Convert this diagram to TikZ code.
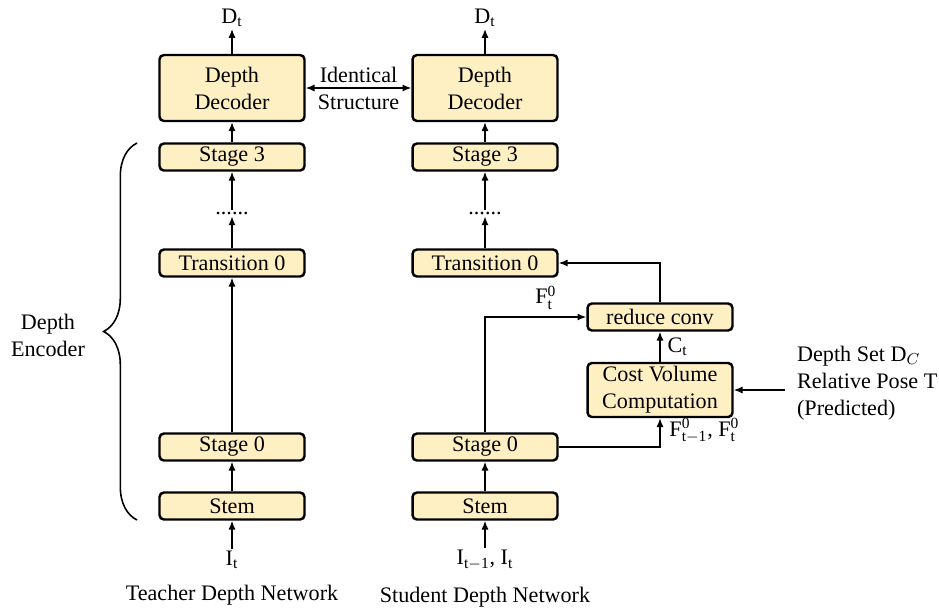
\documentclass[tikz,border=0pt]{standalone}
\usepackage{fontspec}
\setmainfont{Liberation Serif}
\usepackage{tikz}
\usetikzlibrary{math,arrows.meta,decorations.pathreplacing}
\definecolor{boxfill}{RGB}{255,240,196}
\tikzset{
  blk/.style={draw, line width=1.4pt, rounded corners=2.5pt, fill=boxfill,
    minimum width=2.9cm, minimum height=0.54cm, inner sep=0pt, align=center},
  decblk/.style={blk, minimum height=1.32cm},
  lbl/.style={inner sep=1pt, align=center},
  flow/.style={-{Latex[length=5pt,width=4pt]}, line width=0.75pt},
}
\begin{document}
\begin{tikzpicture}[x=0.02cm, y=-0.02cm, font=\fontsize{12.6}{15.4}\selectfont]
  \tikzmath{\xt = 232; \xs = 485; \xc = 660;}
  \useasboundingbox (0,0) rectangle (939,613);

  % teacher column
  \node[decblk] (tdec) at (\xt, 88) {Depth\\Decoder};
  \node[blk] (ts3) at (\xt, 157) {Stage 3};
  \node[lbl] (tdots) at (\xt, 213) {......};
  \node[blk] (ttr) at (\xt, 263) {Transition 0};
  \node[blk] (ts0) at (\xt, 447) {Stage 0};
  \node[blk] (tstem) at (\xt, 506) {Stem};
  \node[lbl] (tout) at (\xt, 18) {D$_\mathrm{t}$};
  \node[lbl] (tin) at (\xt, 560) {I$_\mathrm{t}$};
  \node[lbl] (tname) at (\xt, 595) {Teacher Depth Network};

  \draw[flow] (tstem) -- (ts0);
  \draw[flow] (ts0) -- (ttr);
  \draw[flow] (ttr) -- (tdots);
  \draw[flow] (tdots) -- (ts3);
  \draw[flow] (ts3) -- (tdec);
  \draw[flow] (tdec) -- (tout);
  \draw[flow] (tin) -- (tstem);

  % student column
  \node[decblk] (sdec) at (\xs, 88) {Depth\\Decoder};
  \node[blk] (ss3) at (\xs, 157) {Stage 3};
  \node[lbl] (sdots) at (\xs, 213) {......};
  \node[blk] (str) at (\xs, 263) {Transition 0};
  \node[blk] (ss0) at (\xs, 447) {Stage 0};
  \node[blk] (sstem) at (\xs, 506) {Stem};
  \node[lbl] (sout) at (\xs, 18) {D$_\mathrm{t}$};
  \node[lbl] (sin) at (\xs, 560) {I$_\mathrm{t-1}$, I$_\mathrm{t}$};
  \node[lbl] (sname) at (\xs, 597) {Student Depth Network};

  \draw[flow] (sstem) -- (ss0);
  \draw[flow] (str) -- (sdots);
  \draw[flow] (sdots) -- (ss3);
  \draw[flow] (ss3) -- (sdec);
  \draw[flow] (sdec) -- (sout);
  \draw[flow] (sin) -- (sstem);

  % cost volume branch
  \node[blk] (red) at (\xc, 317) {reduce conv};
  \node[decblk, minimum height=1.08cm] (cost) at (\xc, 390) {Cost Volume\\Computation};
  \node[lbl, anchor=west, align=left] (prior) at (795, 383) {Depth Set D$_C$\\Relative Pose T\\(Predicted)};
  \coordinate (pin) at (785, 390);

  \draw[flow] (ss0.north) |- node[lbl, pos=0.8, above=3pt] {F$^\mathrm{0}_\mathrm{t}$} (red.west);
  \draw[flow] (ss0.east) -| node[lbl, pos=0.78, right=4pt] {F$^\mathrm{0}_\mathrm{t-1}$, F$^\mathrm{0}_\mathrm{t}$} (cost.south);
  \draw[flow] (cost) -- node[lbl, right=3pt] {C$_\mathrm{t}$} (red);
  \draw[flow] (red.north) |- (str.east);
  \draw[flow] (pin) -- (cost.east);

  % shared decoder
  \draw[{Latex[length=5pt,width=4pt]}-{Latex[length=5pt,width=4pt]}, line width=0.75pt] (tdec) -- node[lbl] {Identical\\Structure} (sdec);

  % encoder brace
  \coordinate (btop) at (137, 143);
  \coordinate (bbot) at (137, 520);
  \draw[line width=0.9pt, decorate, decoration={brace, amplitude=19pt}] (bbot) -- (btop);
  \node[lbl] (enc) at (48, 335) {Depth\\Encoder};
\end{tikzpicture}
\end{document}
